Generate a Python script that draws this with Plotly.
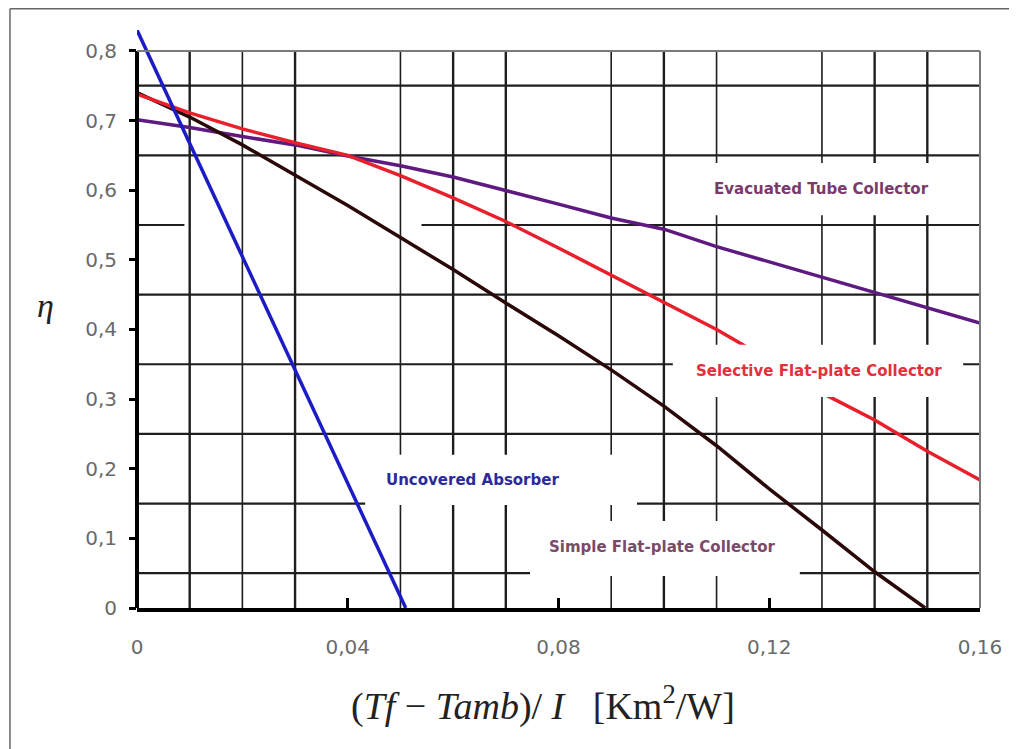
import plotly.graph_objects as go

# ---- data ----
x_unc = [0.0, 0.051]
eta_unc = [0.83, 0.0]

x_eval = [0.0, 0.01, 0.02, 0.03, 0.04, 0.05, 0.06, 0.07, 0.08, 0.09, 0.10, 0.11, 0.12, 0.13, 0.14, 0.15, 0.16]
eta_evac = [0.701, 0.690, 0.677, 0.665, 0.649, 0.635, 0.619, 0.600, 0.580, 0.560, 0.544, 0.519, 0.497, 0.476, 0.453, 0.431, 0.409]

x_sel = [0.0, 0.01, 0.02, 0.03, 0.04, 0.05, 0.06, 0.07, 0.08, 0.09, 0.10, 0.11, 0.115, 0.131, 0.14, 0.15, 0.16]
eta_sel = [0.738, 0.711, 0.688, 0.668, 0.650, 0.621, 0.589, 0.555, 0.517, 0.478, 0.440, 0.400, 0.378, 0.305, 0.270, 0.225, 0.184]

x_simple = [0.0, 0.01, 0.02, 0.03, 0.04, 0.05, 0.06, 0.07, 0.08, 0.09, 0.10, 0.11, 0.12, 0.13, 0.14, 0.1496]
eta_simple = [0.740, 0.705, 0.665, 0.622, 0.578, 0.532, 0.486, 0.438, 0.391, 0.342, 0.290, 0.233, 0.171, 0.112, 0.052, 0.0]

x_ticks = [0, 0.04, 0.08, 0.12, 0.16]
y_ticks = [0, 0.1, 0.2, 0.3, 0.4, 0.5, 0.6, 0.7, 0.8]

grid_x = [0.01, 0.02, 0.03, 0.05, 0.06, 0.07, 0.09, 0.10, 0.11, 0.13, 0.14, 0.15]
grid_x_thick = [0.01, 0.03, 0.06, 0.07, 0.10, 0.14, 0.15]
grid_y = [0.05, 0.15, 0.25, 0.35, 0.45, 0.55, 0.65, 0.75]
grid_y_gap = {0.55: (0.009, 0.054)}   # broken stretch of a horizontal grid line

labels = ["Evacuated Tube Collector", "Selective Flat-plate Collector",
          "Uncovered Absorber", "Simple Flat-plate Collector"]
label_x = [0.130, 0.1295, 0.0636, 0.0996]
label_y = [0.602, 0.341, 0.184, 0.0876]
label_colors = ["#7a3a6c", "#e2303c", "#2b2b9e", "#7a4a68"]
# white boxes behind the labels (x0, x1, y0, y1 in axis units)
label_boxes = [(0.103, 0.158, 0.564, 0.639),
               (0.1017, 0.1568, 0.303, 0.378),
               (0.0433, 0.0949, 0.148, 0.220),
               (0.0746, 0.1258, 0.046, 0.125)]

fig = go.Figure()

# grid lines (below traces)
for gx in grid_x:
    fig.add_shape(type="line", xref="x", yref="y", x0=gx, x1=gx, y0=0, y1=0.8, layer="below",
                  line=dict(color="#1e1e1e", width=2.4 if gx in grid_x_thick else 1.6))
for gy in grid_y:
    segs = [(0, 0.16)]
    if gy in grid_y_gap:
        a, b = grid_y_gap[gy]
        segs = [(0, a), (b, 0.16)]
    for s0, s1 in segs:
        fig.add_shape(type="line", xref="x", yref="y", x0=s0, x1=s1, y0=gy, y1=gy, layer="below",
                      line=dict(color="#1e1e1e", width=2.2))

fig.add_trace(go.Scatter(x=x_eval, y=eta_evac, mode="lines",
                         line=dict(color="#5e1a80", width=3.5), showlegend=False))
fig.add_trace(go.Scatter(x=x_simple, y=eta_simple, mode="lines",
                         line=dict(color="#2a0808", width=3.5), showlegend=False))
fig.add_trace(go.Scatter(x=x_sel, y=eta_sel, mode="lines",
                         line=dict(color="#e8202c", width=3.5), showlegend=False))
fig.add_trace(go.Scatter(x=x_unc, y=eta_unc, mode="lines",
                         line=dict(color="#1c1cc4", width=3.5), showlegend=False))

for (bx0, bx1, by0, by1) in label_boxes:
    fig.add_shape(type="rect", xref="x", yref="y", x0=bx0, x1=bx1, y0=by0, y1=by1,
                  layer="above", fillcolor="white", line=dict(width=0))

for t, lx, ly, c in zip(labels, label_x, label_y, label_colors):
    fig.add_annotation(x=lx, y=ly, xref="x", yref="y", text="<b>" + t + "</b>",
                       showarrow=False,
                       font=dict(family="DejaVu Sans", size=15, color=c))

# axis title annotations
fig.add_annotation(x=-0.1080, y=0.524, xref="paper", yref="paper", text="<i>η</i>",
                   xanchor="center", yanchor="middle",
                   showarrow=False, font=dict(family="Liberation Serif", size=34, color="#222"))
fig.add_annotation(x=0.4816, y=-0.1644, xref="paper", yref="paper",
                   text="(<i>Tf</i> − <i>Tamb</i>)/ <i>I</i>   [Km<sup>2</sup>/W]",
                   xanchor="center", yanchor="middle",
                   showarrow=False, font=dict(family="Liberation Serif", size=38, color="#222"))

# plot frame lines
fig.add_shape(type="line", xref="paper", yref="y", x0=0, x1=0, y0=0, y1=0.8,
              line=dict(color="black", width=4))
fig.add_shape(type="line", xref="paper", yref="y", x0=0, x1=1, y0=0.8, y1=0.8,
              line=dict(color="#7a7a7a", width=2))
fig.add_shape(type="line", xref="paper", yref="y", x0=1, x1=1, y0=0, y1=0.8,
              line=dict(color="#7a7a7a", width=2))
# picture border (top and left)
fig.add_shape(type="line", xref="paper", yref="paper", x0=-0.1507, x1=1.05, y0=1.0368, y1=1.0368,
              line=dict(color="#666", width=1.5))
fig.add_shape(type="line", xref="paper", yref="paper", x0=-0.1507, x1=-0.1507, y0=1.0368, y1=-0.25,
              line=dict(color="#666", width=1.5))

tick_font = dict(family="DejaVu Sans", size=20, color="#6a6a6a")
fig.update_xaxes(range=[0, 0.16], tickvals=x_ticks, tickmode="array",
                 showgrid=False, zeroline=False,
                 showline=True, linewidth=4, linecolor="black",
                 ticks="inside", ticklen=10, tickwidth=3, tickcolor="black",
                 ticklabelstandoff=18, tickfont=tick_font)
fig.update_yaxes(range=[0, 0.83], tickvals=y_ticks, tickmode="array",
                 showgrid=False, zeroline=False, showline=False,
                 ticks="outside", ticklen=7, tickwidth=3, tickcolor="black",
                 ticklabelstandoff=8, tickfont=tick_font)

fig.update_layout(width=1009, height=741, separators=", ",
                  margin=dict(l=129, r=37, t=22, b=141),
                  plot_bgcolor="white", paper_bgcolor="white")

fig.write_html("out.html")
